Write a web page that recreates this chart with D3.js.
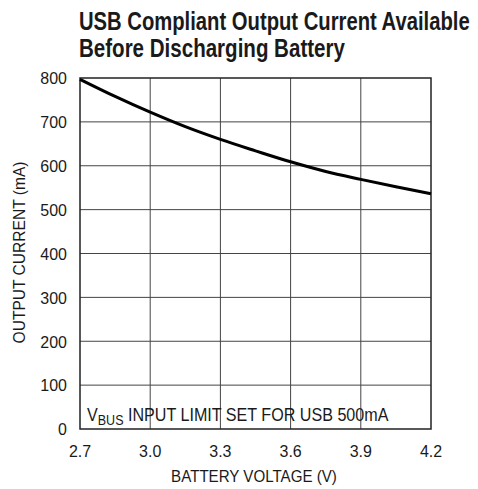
<!DOCTYPE html>
<html><head><meta charset="utf-8">
<script src="https://cdn.jsdelivr.net/npm/d3@7"></script>
<style>body{margin:0;background:#fff}svg{display:block}</style>
</head><body>
<svg id="c" width="478" height="489"></svg>
<script>
const titleLines = ["USB Compliant Output Current Available", "Before Discharging Battery"];
const xTicks = [2.7, 3.0, 3.3, 3.6, 3.9, 4.2];
const yTicks = [0, 100, 200, 300, 400, 500, 600, 700, 800];
const voltage = [2.7, 2.85, 3.0, 3.15, 3.3, 3.45, 3.6, 3.75, 3.9, 4.05, 4.2];
const current = [797, 758, 722, 689, 660, 634, 609, 587, 569, 552, 536];
const xLabel = "BATTERY VOLTAGE (V)";
const yLabel = "OUTPUT CURRENT (mA)";

const font = "'Liberation Sans','Arial',sans-serif";
const svg = d3.select("#c");
const L = 80, R = 431, T = 78, B = 429;
const x = d3.scaleLinear().domain([2.7, 4.2]).range([L, R]);
const y = d3.scaleLinear().domain([0, 800]).range([B, T]);

// place condensed text: g at (px,py) rotated, text scaled horizontally
function condText(px, py, rot, size, weight, anchor, sx, width) {
  const g = svg.append("g");
  const t = g.append("text").attr("font-family", font).attr("font-size", size)
    .attr("font-weight", weight).attr("fill", "#1a1a1a").attr("text-anchor", anchor);
  return {g, t, done() {
    let s = sx;
    if (width) s = width / t.node().getComputedTextLength();
    g.attr("transform", `translate(${px},${py}) rotate(${rot}) scale(${s},1)`);
  }};
}

// title
[[391, 30], [266, 56.5]].forEach(([w, by], i) => {
  const c = condText(79, by, 0, 26, "bold", "start", null, w);
  c.t.text(titleLines[i]); c.done();
});

// grid
const g = svg.append("g");
g.selectAll("line.vx").data(xTicks.slice(1, -1)).join("line")
  .attr("x1", d => x(d)).attr("x2", d => x(d)).attr("y1", T).attr("y2", B)
  .attr("stroke", "#444").attr("stroke-width", 1);
g.selectAll("line.hy").data(yTicks.slice(1, -1)).join("line")
  .attr("y1", d => y(d)).attr("y2", d => y(d)).attr("x1", L).attr("x2", R)
  .attr("stroke", "#444").attr("stroke-width", 1);
g.append("rect").attr("x", L).attr("y", T).attr("width", R - L).attr("height", B - T)
  .attr("fill", "none").attr("stroke", "#222").attr("stroke-width", 1.5);

// curve
const line = d3.line().x(d => x(d[0])).y(d => y(d[1])).curve(d3.curveMonotoneX);
svg.append("path").datum(voltage.map((v, i) => [v, current[i]]))
  .attr("d", line).attr("fill", "none").attr("stroke", "#000").attr("stroke-width", 3);

// tick labels
xTicks.forEach(d => {
  const c = condText(x(d), 456.5, 0, 17, "normal", "middle", 0.94);
  c.t.text(d.toFixed(1)); c.done();
});
yTicks.forEach(d => {
  const c = condText(67, y(d) + 6.3, 0, 17, "normal", "end", 0.94);
  c.t.text(d); c.done();
});

// axis titles
{ const c = condText(254, 481.5, 0, 17, "normal", "middle", null, 166); c.t.text(xLabel); c.done(); }
{ const c = condText(24.5, 252.5, -90, 17, "normal", "middle", null, 182); c.t.text(yLabel); c.done(); }

// annotation
{
  const c = condText(87, 420.5, 0, 18, "normal", "start", null, 301.5);
  c.t.append("tspan").text("V");
  c.t.append("tspan").attr("dy", 4).attr("font-size", 14).text("BUS");
  c.t.append("tspan").attr("dy", -4).text(" INPUT LIMIT SET FOR USB 500mA");
  c.done();
}
</script>
</body></html>
